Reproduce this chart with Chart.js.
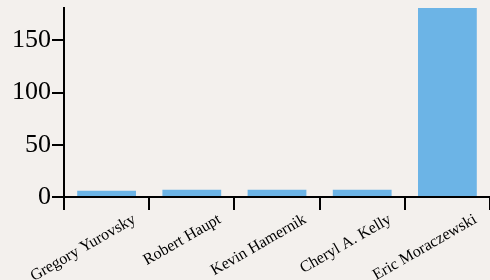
<!DOCTYPE html>
<html>
<head>
<meta charset="utf-8">
<script src="https://cdn.jsdelivr.net/npm/chart.js@4"></script>
<style>
  html, body { margin: 0; padding: 0; background: #f3f0ed; }
  #wrap { width: 490px; height: 280px; }
</style>
</head>
<body>
<div id="wrap"><canvas id="grafica" width="490" height="280"></canvas></div>
<script>
// Datos del gráfico
const nombres = ['Gregory Yurovsky', 'Robert Haupt', 'Kevin Hamernik', 'Cheryl A. Kelly', 'Eric Moraczewski'];
const valores = [6, 7, 7, 7, 181];
const marcasY = [0, 50, 100, 150];
const maxY = 181;

const fuenteSerif = "'Liberation Serif', 'Times New Roman', serif";

const ctx = document.getElementById('grafica').getContext('2d');
new Chart(ctx, {
    type: 'bar',
    data: {
        labels: nombres,
        datasets: [{
            data: valores,
            backgroundColor: '#6cb4e6',
            categoryPercentage: 1,
            barPercentage: 0.69
        }]
    },
    options: {
        responsive: false,
        animation: false,
        layout: { padding: { left: 11, right: 0, top: 8, bottom: 0 } },
        plugins: {
            legend: { display: false },
            tooltip: { enabled: false }
        },
        scales: {
            x: {
                afterFit: (eje) => {
                    // alto fijo para que el eje quede en y≈197
                    eje.height = 83;
                    eje.paddingLeft = 0;
                    eje.paddingRight = 0;
                },
                grid: {
                    offset: true,
                    drawOnChartArea: false,
                    color: '#000',
                    lineWidth: 2,
                    tickLength: 13
                },
                border: { display: true, color: '#000', width: 2 },
                ticks: {
                    color: '#000',
                    font: { family: fuenteSerif, size: 16 },
                    minRotation: 30,
                    maxRotation: 30,
                    labelOffset: 28,
                    padding: 0
                }
            },
            y: {
                min: 0,
                max: maxY,
                afterBuildTicks: (eje) => {
                    eje.ticks = marcasY.map(v => ({ value: v }));
                },
                afterFit: (eje) => {
                    eje.paddingTop = 0;
                    eje.paddingBottom = 0;
                },
                grid: {
                    drawOnChartArea: false,
                    color: '#000',
                    lineWidth: 2,
                    tickLength: 12
                },
                border: { display: true, color: '#000', width: 2 },
                ticks: {
                    color: '#000',
                    font: { family: fuenteSerif, size: 26 },
                    padding: 1
                }
            }
        }
    }
});
</script>
</body>
</html>
